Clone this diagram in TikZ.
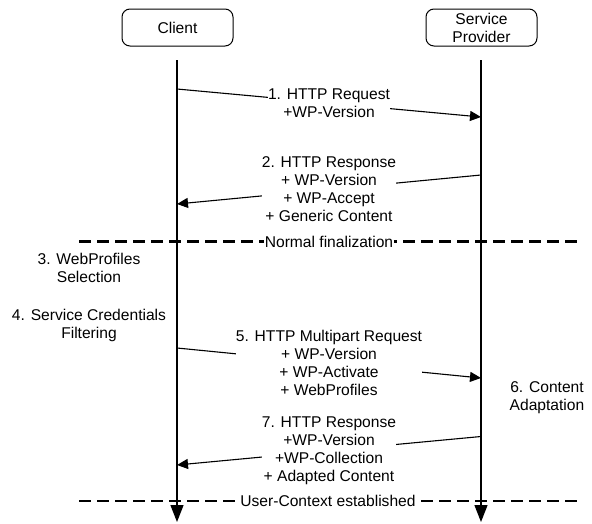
\documentclass[tikz,border=0pt]{standalone}
\usepackage{fontspec}
\setmainfont{Liberation Sans}
\usetikzlibrary{arrows.meta}
\begin{document}
\begin{tikzpicture}[x=1pt,y=-1pt,
  every node/.style={font=\fontsize{15.6}{18}\selectfont, align=center, inner sep=0pt},
  actor/.style={draw, line width=1pt, rounded corners=8pt, minimum width=111pt, minimum height=37pt},
  life/.style={line width=1.3pt, -{Triangle[length=17pt,width=13pt]}},
  msg/.style={line width=1.1pt, -{Triangle[length=11pt,width=10pt]}},
  lbl/.style={fill=white, inner xsep=0pt, inner ysep=0pt},
  sep/.style={line width=2.2pt, dash pattern=on 12pt off 6pt},
  seplbl/.style={fill=white, inner xsep=1pt, inner ysep=1pt},
  note/.style={}]
\useasboundingbox (0,0) rectangle (592,523);

% actors
\node[actor] (client) at (177.5,27.5) {Client};
\node[actor] (sp) at (481.5,27.5) {Service\\Provider};

% lifeline ends
\coordinate (ctop) at (177,60);
\coordinate (cbot) at (177,522);
\coordinate (stop) at (481,60);
\coordinate (sbot) at (481,522);

% separators
\coordinate (d1l) at (79,241.5);
\coordinate (d1r) at (580,241.5);
\coordinate (d2l) at (79,501);
\coordinate (d2r) at (579,501);
\draw[sep] (d1l) -- (d1r);
\draw[sep] (d2l) -- (d2r);
\node[seplbl] (nf) at (329,241.5) {Normal finalization};
\node[seplbl] (uc) at (328,501) {User-Context established};

% lifelines
\draw[life] (ctop) -- (cbot);
\draw[life] (stop) -- (sbot);

% message anchors
\coordinate (m1a) at (177,89);
\coordinate (m1b) at (481,117);
\coordinate (m2a) at (481,175);
\coordinate (m2b) at (177,204);
\coordinate (m5a) at (177,348);
\coordinate (m5b) at (481,378);
\coordinate (m7a) at (481,436.5);
\coordinate (m7b) at (177,465);

\draw[msg] (m1a) -- node[lbl] (l1) {1. HTTP Request\\+WP-Version} (m1b);
\draw[msg] (m2a) -- node[lbl] (l2) {2. HTTP Response\\+ WP-Version\\+ WP-Accept\\+ Generic Content} (m2b);
\draw[msg] (m5a) -- node[lbl] (l5) {5. HTTP Multipart Request\\+ WP-Version\\+ WP-Activate\\+ WebProfiles} (m5b);
\draw[msg] (m7a) -- node[lbl] (l7) {7. HTTP Response\\+WP-Version\\+WP-Collection\\+ Adapted Content} (m7b);

% local notes
\node[note] (n3) at (89,268) {3. WebProfiles\\Selection};
\node[note] (n4) at (89,325) {4. Service Credentials\\Filtering};
\node[note] (n6) at (547,397.5) {6. Content\\Adaptation};
\end{tikzpicture}
\end{document}
